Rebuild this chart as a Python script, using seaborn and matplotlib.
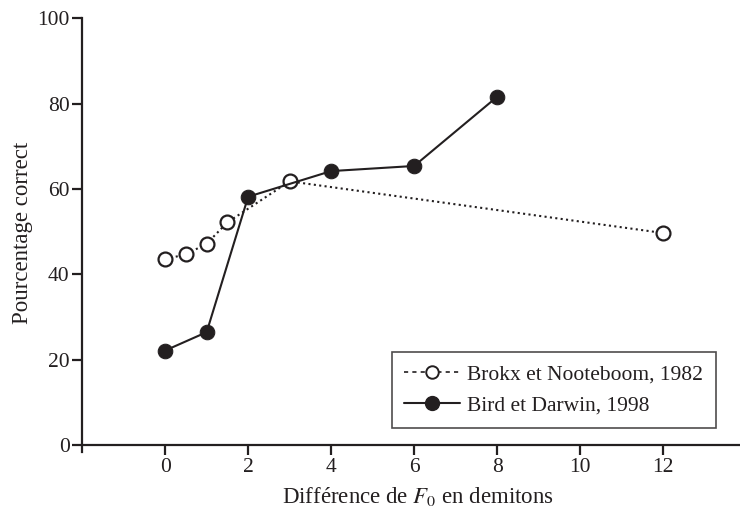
import matplotlib
matplotlib.use("Agg")
import matplotlib.pyplot as plt
from matplotlib.lines import Line2D
import seaborn as sns
import pandas as pd

brokx_x = [0, 0.5, 1, 1.5, 3, 12]
brokx_y = [43.6, 44.7, 47.2, 52.2, 61.8, 49.7]
bird_x = [0, 1, 2, 4, 6, 8]
bird_y = [22.2, 26.5, 58.2, 64.2, 65.4, 81.6]
xticks = [0, 2, 4, 6, 8, 10, 12]
yticks = [0, 20, 40, 60, 80, 100]
label_brokx = "Brokx et Nooteboom, 1982"
label_bird = "Bird et Darwin, 1998"

sns.set_theme(style="ticks")
plt.rcParams['font.family'] = ['Liberation Serif', 'DejaVu Serif']
plt.rcParams['mathtext.fontset'] = 'stix'

ink = "#231f20"
fig = plt.figure(figsize=(7.4, 5.18), dpi=100)
ax = fig.add_axes([0.111, 0.127, 0.889, 0.838])

df1 = pd.DataFrame({"x": brokx_x, "y": brokx_y})
df2 = pd.DataFrame({"x": bird_x, "y": bird_y})

sns.lineplot(data=df1, x="x", y="y", ax=ax, color=ink, linestyle=(0, (1, 1.6)),
             linewidth=1.5, marker="o", markersize=10, markerfacecolor="white",
             markeredgecolor=ink, markeredgewidth=1.6, estimator=None, sort=False)
sns.lineplot(data=df2, x="x", y="y", ax=ax, color=ink, linestyle="-",
             linewidth=1.5, marker="o", markersize=10.5, markerfacecolor=ink,
             markeredgecolor=ink, estimator=None, sort=False)

ax.set_xlim(-2.0, 13.85)
ax.set_ylim(-1.6, 100)
ax.set_xticks(xticks)
ax.set_yticks(yticks)
ax.spines['top'].set_visible(False)
ax.spines['right'].set_visible(False)
ax.spines['bottom'].set_position(('data', 0))
for s in ['left', 'bottom']:
    ax.spines[s].set_color(ink)
    ax.spines[s].set_linewidth(1.6)
ax.tick_params(axis='both', direction='out', length=7, width=1.6, color=ink,
               labelsize=15.5, labelcolor=ink, pad=2)

ax.set_xlabel(r"Différence de $F_0$ en demitons", fontsize=16.5, color=ink)
ax.set_ylabel("Pourcentage correct", fontsize=16.5, color=ink)
ax.xaxis.set_label_coords(0.51, -0.076)
ax.yaxis.set_label_coords(-0.074, 0.505)

handles = [
    Line2D([], [], color=ink, linestyle=(0, (2.5, 2.5)), linewidth=1.2, marker="o",
           markersize=9, markerfacecolor="white", markeredgecolor=ink, markeredgewidth=1.4),
    Line2D([], [], color=ink, linestyle="-", linewidth=1.5, marker="o",
           markersize=10, markerfacecolor=ink, markeredgecolor=ink),
]
leg = ax.legend(handles, [label_brokx, label_bird], loc="lower right",
                bbox_to_anchor=(0.963, 0.055), fontsize=15.5, frameon=True,
                fancybox=False, edgecolor=ink, handlelength=2.6, handletextpad=0.3,
                borderpad=0.6, labelspacing=0.5, borderaxespad=0)
leg.get_frame().set_linewidth(1.2)
for t in leg.get_texts():
    t.set_color(ink)

fig.savefig("out.png", dpi=100)
